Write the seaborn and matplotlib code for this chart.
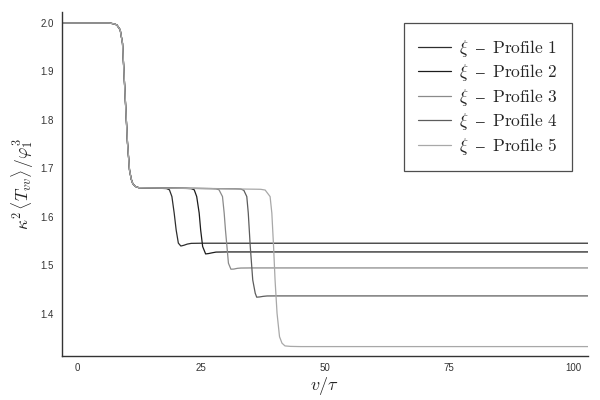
import matplotlib
matplotlib.use("Agg")
import matplotlib.pyplot as plt
import seaborn as sns
import pandas as pd

# ---- data ----
common_x = [-3.0, 6.5, 7.0, 7.5, 8.0, 8.67, 9.14, 9.48, 9.81, 10.15, 10.55, 10.9, 11.2, 11.7, 12.4, 14.0]
common_y = [2.0, 2.0, 1.999, 1.998, 1.996, 1.986, 1.958, 1.889, 1.821, 1.752, 1.697, 1.678, 1.669, 1.663, 1.6604, 1.6600]

p1_x = [17.0, 18.0, 18.6, 19.1, 19.56, 19.96, 20.4, 20.9, 21.5, 22.2, 23.0, 25.0, 103.0]
p1_y = [1.6590, 1.6585, 1.656, 1.642, 1.608, 1.573, 1.546, 1.540, 1.5415, 1.544, 1.5455, 1.5458, 1.5458]

p2_x = [22.0, 23.0, 23.6, 24.1, 24.6, 24.9, 25.3, 25.9, 26.5, 27.2, 28.0, 30.0, 103.0]
p2_y = [1.6588, 1.6583, 1.656, 1.642, 1.608, 1.573, 1.539, 1.5237, 1.5245, 1.526, 1.5275, 1.5278, 1.5278]

p3_x = [27.0, 28.0, 28.6, 29.3, 29.64, 29.9, 30.2, 30.5, 31.0, 31.6, 32.3, 33.0, 35.0, 103.0]
p3_y = [1.6585, 1.658, 1.656, 1.642, 1.608, 1.573, 1.539, 1.5045, 1.4922, 1.4925, 1.494, 1.4946, 1.4948, 1.4948]

p4_x = [32.0, 33.0, 33.6, 34.2, 34.5, 34.9, 35.4, 35.9, 36.2, 36.8, 37.5, 38.3, 40.0, 103.0]
p4_y = [1.658, 1.6575, 1.655, 1.642, 1.608, 1.539, 1.470, 1.4427, 1.4345, 1.435, 1.4362, 1.437, 1.4371, 1.4371]

p5_x = [36.0, 37.0, 37.9, 38.9, 39.25, 39.6, 39.9, 40.3, 40.8, 41.3, 41.9, 43.0, 45.0, 103.0]
p5_y = [1.6572, 1.657, 1.6555, 1.642, 1.608, 1.539, 1.470, 1.4014, 1.353, 1.3396, 1.334, 1.333, 1.3326, 1.3326]

labels = [r"$\xi\;\;–\;\;\mathrm{Profile\ 1}$", r"$\xi\;\;–\;\;\mathrm{Profile\ 2}$",
          r"$\xi\;\;–\;\;\mathrm{Profile\ 3}$", r"$\xi\;\;–\;\;\mathrm{Profile\ 4}$",
          r"$\xi\;\;–\;\;\mathrm{Profile\ 5}$"]
colors = ["#2e2e2e", "#1c1c1c", "#8a8a8a", "#5c5c5c", "#a8a8a8"]

xticks = [0, 25, 50, 75, 100]
yticks = [1.4, 1.5, 1.6, 1.7, 1.8, 1.9, 2.0]

sns.set_style("white")
plt.rcParams["font.family"] = ["Liberation Sans", "DejaVu Sans"]
plt.rcParams["mathtext.fontset"] = "cm"

fig = plt.figure(figsize=(6, 4), dpi=100)
ax = fig.add_axes([0.103, 0.111, 0.877, 0.859])

profiles = [(p1_x, p1_y), (p2_x, p2_y), (p3_x, p3_y), (p4_x, p4_y), (p5_x, p5_y)]
for (px, py), lab, col in zip(profiles, labels, colors):
    df = pd.DataFrame({"x": common_x + px, "y": common_y + py})
    sns.lineplot(data=df, x="x", y="y", ax=ax, color=col, lw=0.9,
                 label=lab, estimator=None, sort=False)

ax.set_xlim(-3.1, 103.0)
ax.set_ylim(1.314, 2.0227)
ax.set_xticks(xticks)
ax.set_xticklabels([str(t) for t in xticks])
ax.set_yticks(yticks)
ax.set_yticklabels([f"{t:.1f}" for t in yticks])
ax.tick_params(direction="in", length=4, width=0.8, labelsize=7,
               labelcolor="#333333", color="#333333")
ax.tick_params(axis="x", pad=5)
ax.tick_params(axis="y", pad=6)

for s in ["top", "right"]:
    ax.spines[s].set_visible(False)
for s in ["left", "bottom"]:
    ax.spines[s].set_color("#333333")
    ax.spines[s].set_linewidth(1.0)

ax.set_xlabel(r"$v/\tau$", fontsize=13, labelpad=2)
ax.set_ylabel(r"$\kappa^2\,\langle T_{vv}\rangle\,/\varphi_1^3$", fontsize=12.5, labelpad=3)

leg = ax.legend(loc="upper right", bbox_to_anchor=(0.970, 0.968), borderaxespad=0,
                fontsize=12.5, frameon=True, fancybox=False, handlelength=1.9,
                handletextpad=0.45, labelspacing=0.2, borderpad=0.85)
leg.get_frame().set_edgecolor("#222222")
leg.get_frame().set_linewidth(0.9)

fig.savefig("out.png", dpi=100)
